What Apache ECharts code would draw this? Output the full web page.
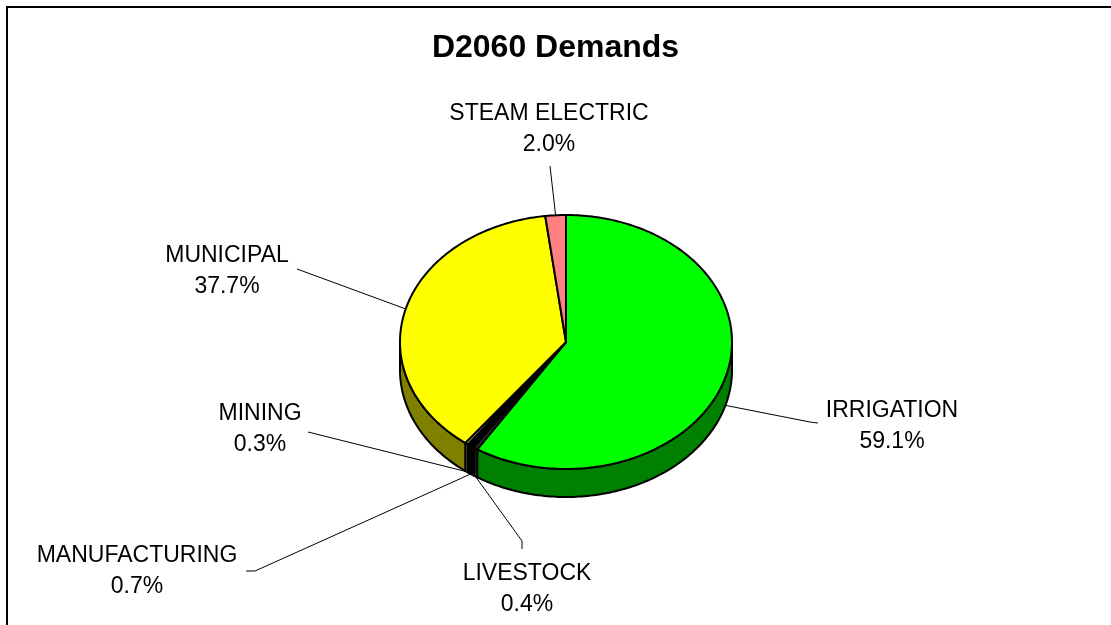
<!DOCTYPE html>
<html>
<head>
<meta charset="utf-8">
<script src="https://cdn.jsdelivr.net/npm/echarts@6/dist/echarts.min.js"></script>
<style>
html,body{margin:0;padding:0;background:#fff;}
#chart{width:1111px;height:625px;}
</style>
</head>
<body>
<div id="chart"></div>
<script>
// ---- data ----
const categories = ['IRRIGATION', 'LIVESTOCK', 'MANUFACTURING', 'MINING', 'MUNICIPAL', 'STEAM ELECTRIC'];
const percents = [59.1, 0.4, 0.7, 0.3, 37.7, 2.0];

// ---- styles / layout ----
const topColors  = ['#00FF00', '#333333', '#000000', '#FFFFCC', '#FFFF00', '#FF8080'];
const sideColors = ['#008000', '#1A1A1A', '#000000', '#9C9C7A', '#808000', '#804040'];
const PIE = { cx: 566, cy: 342, rx: 166, ry: 127, depth: 28 };
// label block centres and leader-line knee/end points (layout only)
const labelLayout = [
  { c: [892, 426], knee: [810, 422], end: [818, 423] },
  { c: [527, 589], knee: [522, 541], end: [522, 549] },
  { c: [137, 571], knee: [255, 571], end: [246, 571] },
  { c: [260, 429], knee: [308, 432], end: [308, 432] },
  { c: [227, 271], knee: [297, 269], end: [297, 269] },
  { c: [549, 129], knee: [550, 166], end: [550, 166] }
];
const FONT = 'Liberation Sans, Arial, sans-serif';

const total = percents.reduce((a, b) => a + b, 0);
function sliceAngles(i) {
  let cum = 0;
  for (let k = 0; k < i; k++) cum += percents[k];
  return [cum / total * 2 * Math.PI, (cum + percents[i]) / total * 2 * Math.PI];
}
function pt(theta, dy) {
  return [PIE.cx + PIE.rx * Math.sin(theta), PIE.cy - PIE.ry * Math.cos(theta) + (dy || 0)];
}
function arc(a, b, dy) {
  const n = Math.max(2, Math.ceil((b - a) / (Math.PI / 180)));
  const out = [];
  for (let k = 0; k <= n; k++) out.push(pt(a + (b - a) * k / n, dy));
  return out;
}

const data = percents.map((v, i) => [i, v]);

const option = {
  animation: false,
  backgroundColor: '#fff',
  title: {
    text: 'D2060 Demands',
    left: 'center',
    top: 27,
    textStyle: { fontFamily: FONT, fontSize: 32, fontWeight: 'bold', color: '#000' }
  },
  graphic: [{
    type: 'rect',
    shape: { x: 7, y: 7, width: 2000, height: 2000 },
    style: { fill: null, stroke: '#000', lineWidth: 2 },
    silent: true
  }],
  series: [
    {
      type: 'custom', coordinateSystem: 'none', data: data, z: 1, silent: true,
      renderItem: function (params, api) {
        const i = api.value(0);
        const [s, e] = sliceAngles(i);
        const a = Math.max(s, Math.PI / 2), b = Math.min(e, 3 * Math.PI / 2);
        if (a >= b) return { type: 'group', children: [] };
        const pts = arc(a, b, 0).concat(arc(a, b, PIE.depth).reverse());
        return {
          type: 'polygon', shape: { points: pts },
          style: { fill: sideColors[i], stroke: '#000', lineWidth: 2, lineJoin: 'round' }
        };
      }
    },
    {
      type: 'custom', coordinateSystem: 'none', data: data, z: 2, silent: true,
      renderItem: function (params, api) {
        const i = api.value(0);
        const [s, e] = sliceAngles(i);
        const pts = [[PIE.cx, PIE.cy]].concat(arc(s, e, 0));
        return {
          type: 'polygon', shape: { points: pts },
          style: { fill: topColors[i], stroke: '#000', lineWidth: 2, lineJoin: 'round' }
        };
      }
    },
    {
      type: 'custom', coordinateSystem: 'none', data: data, z: 3, silent: true,
      renderItem: function (params, api) {
        const i = api.value(0);
        const [s, e] = sliceAngles(i);
        const m = (s + e) / 2;
        const anchor = pt(m, Math.cos(m) < 0 ? PIE.depth : 0);
        const L = labelLayout[i];
        return {
          type: 'group',
          children: [
            {
              type: 'polyline',
              shape: { points: [anchor, L.knee, L.end] },
              style: { stroke: '#000', lineWidth: 1, fill: null }
            },
            {
              type: 'text', x: L.c[0], y: L.c[1],
              style: {
                text: categories[i] + '\n' + api.value(1).toFixed(1) + '%',
                font: '23px ' + FONT, fill: '#000',
                align: 'center', verticalAlign: 'middle', lineHeight: 31
              }
            }
          ]
        };
      }
    }
  ]
};

const chart = echarts.init(document.getElementById('chart'), null, { renderer: 'canvas' });
chart.setOption(option);
</script>
</body>
</html>
